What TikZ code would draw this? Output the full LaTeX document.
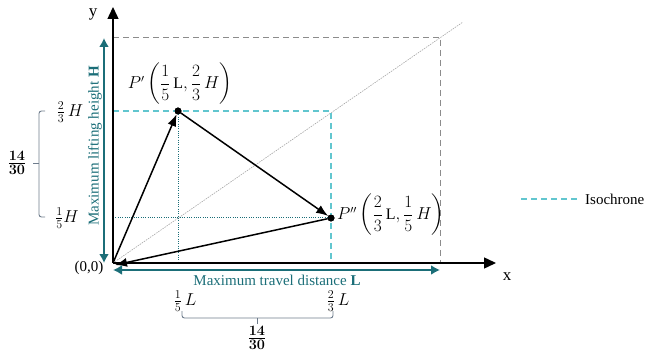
\documentclass[tikz,border=0pt]{standalone}
\usepackage{amsmath}
\usepackage{fontspec}
\setmainfont{Liberation Serif}
\usetikzlibrary{arrows.meta}
\definecolor{tealA}{HTML}{1B6E78}
\definecolor{isoc}{HTML}{62C6CF}
\definecolor{grayd}{HTML}{8C8C8C}
\definecolor{brk}{HTML}{6E7C8C}
\begin{document}
\begin{tikzpicture}[x=1pt,y=-1pt, font=\fontsize{15}{18}\selectfont,
 axis/.style={line width=1.4pt, -{Triangle[length=12pt,width=11pt]}},
 route/.style={line width=1.5pt, -{Latex[length=12pt,width=9pt]}},
 dimarrow/.style={tealA, line width=1.9pt, {Latex[length=9pt,width=10pt]}-{Latex[length=9pt,width=10pt]}},
 isoline/.style={isoc, line width=1.2pt, dash pattern=on 6pt off 4pt},
 guide/.style={tealA, line width=1pt, dash pattern=on 1pt off 1.3pt},
 framel/.style={grayd, line width=0.9pt, dash pattern=on 6pt off 4pt},
 dot/.style={circle, fill=black, draw=black, inner sep=0pt, minimum size=6.5pt},
 lbl/.style={inner sep=0pt},
 biglbl/.style={inner sep=0pt, font=\fontsize{18}{21}\selectfont},
 fraclbl/.style={inner sep=0pt, font=\fontsize{19}{22}\selectfont},
 bracel/.style={brk, line width=0.9pt, rounded corners=2.5pt}]

\useasboundingbox (0,0) rectangle (647,355);

\coordinate (O) at (113,263);
\coordinate (ytip) at (113,7);
\coordinate (xtip) at (496,263);
\coordinate (TL) at (113,37);
\coordinate (TR) at (440,37);
\coordinate (BR) at (440,263);
\coordinate (diagend) at (463,22);
\node[dot] (P1) at (178,111) {};
\node[dot] (P2) at (331,218) {};

% frame and diagonal
\draw[framel] (TL) -- (TR) -- (BR);
\draw[gray!70, line width=0.6pt, dash pattern=on 1.5pt off 1pt] (O) -- (diagend);

% isochrone and guides
\draw[isoline] (O |- P1) -- (P1 -| P2) -- (P2 |- O);
\draw[guide] (P1) -- (P1 |- O);
\draw[guide] (O |- P2) -- (P2);

% route
\draw[route] (O) -- (P1);
\draw[route] (P1) -- (P2);
\draw[route] (P2) -- ([xshift=2pt,yshift=-2pt]O);

% dots on top
\fill[black] (P1) circle (3.4pt);
\fill[black] (P2) circle (3.4pt);

% axes
\draw[axis] (O) -- (ytip);
\draw[axis] (O) -- (xtip);
\node[lbl, font=\fontsize{17}{20}\selectfont] (ylab) at (93,14) {y};
\node[lbl, font=\fontsize{17}{20}\selectfont] (xlab) at (507,277) {x};
\node[lbl] (olab) at (89,268) {(0,0)};

% dimension arrows
\coordinate (Htop) at (104,38);
\coordinate (Hbot) at (104,263);
\draw[dimarrow] (Hbot) -- (Htop);
\node[lbl, tealA, rotate=90] (Hlab) at (95,146) {Maximum lifting height \textbf{H}};
\coordinate (Lleft) at (113,270);
\coordinate (Lright) at (440,270);
\draw[dimarrow] (Lleft) -- (Lright);
\node[lbl, tealA] (Llab) at (277,280) {Maximum travel distance \textbf{L}};

% point labels
\node[lbl, font=\fontsize{16}{19}\selectfont] (P1lab) at (180,84) {$P'\left(\dfrac{1}{5}\,\mathrm{L},\dfrac{2}{3}\,H\right)$};
\node[lbl, anchor=west, font=\fontsize{16}{19}\selectfont] (P2lab) at (337,215) {$P''\left(\dfrac{2}{3}\,\mathrm{L},\dfrac{1}{5}\,H\right)$};

% left axis values
\node[biglbl] (h23) at (70,112) {$\frac{2}{3}\,H$};
\node[biglbl] (h15) at (67,218) {$\frac{1}{5}H$};
\draw[bracel] (45,111) -- (39,111) -- (39,217) -- (45,217);
\coordinate (lbm) at (39,163);
\coordinate (lbt) at (33,163);
\draw[brk, line width=0.9pt] (lbm) -- (lbt);
\node[fraclbl] (lfrac) at (17,163) {$\boldsymbol{\frac{14}{30}}$};

% bottom axis values
\node[biglbl] (l15) at (185,301) {$\frac{1}{5}\,L$};
\node[biglbl] (l23) at (338,301) {$\frac{2}{3}\,L$};
\draw[bracel] (182,311) -- (182,318) -- (333,318) -- (333,311);
\coordinate (bbm) at (257,318);
\coordinate (bbt) at (257,324);
\draw[brk, line width=0.9pt] (bbm) -- (bbt);
\node[fraclbl] (bfrac) at (257,338) {$\boldsymbol{\frac{14}{30}}$};

% legend
\coordinate (lg1) at (521,199);
\coordinate (lg2) at (577,199);
\draw[isoline] (lg1) -- (lg2);
\node[lbl, anchor=west] (lgt) at (585,199) {Isochrone};
\end{tikzpicture}
\end{document}
